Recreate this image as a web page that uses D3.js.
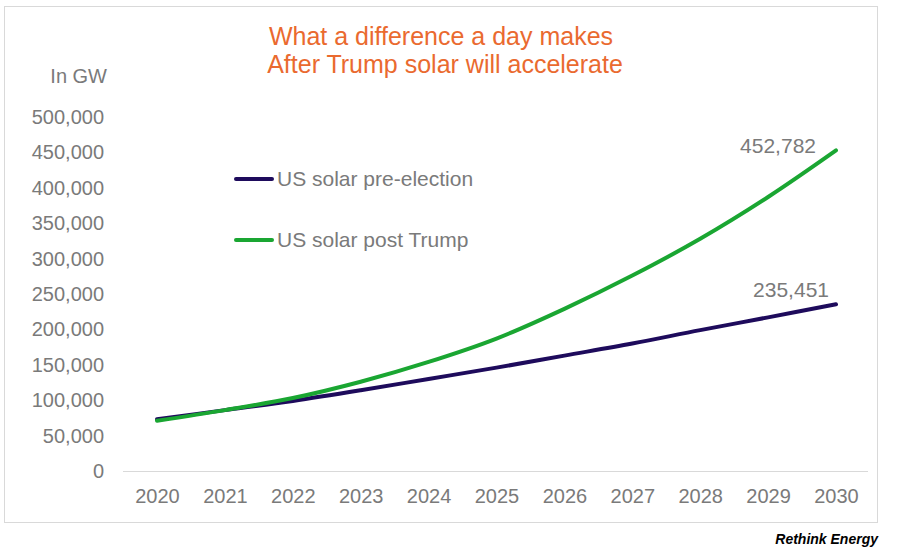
<!DOCTYPE html>
<html><head><meta charset="utf-8">
<script src="https://cdn.jsdelivr.net/npm/d3@7"></script>
<style>body{margin:0;background:#fff;} text{font-family:"Liberation Sans",Arial,sans-serif;}</style>
</head><body>
<svg id="chart" width="903" height="550"></svg>
<script>
const years = ["2020","2021","2022","2023","2024","2025","2026","2027","2028","2029","2030"];
const preElection = [73000, 86000, 99000, 114000, 130000, 146000, 163000, 180000, 199000, 217000, 235451];
const postTrump = [71000, 86000, 103000, 126000, 154000, 187000, 229000, 276000, 328000, 387000, 452782];
const yTicks = [0,50000,100000,150000,200000,250000,300000,350000,400000,450000,500000];
const seriesNames = ["US solar pre-election","US solar post Trump"];
const seriesColors = ["#1e0b5c","#1aa632"];
const endLabels = ["235,451","452,782"];

const svg = d3.select("#chart");
svg.append("rect").attr("x",4.5).attr("y",6.5).attr("width",873).attr("height",516)
  .attr("fill","#fff").attr("stroke","#d9d9d9");

const x = d3.scalePoint().domain(years).range([157,836]);
const y = d3.scaleLinear().domain([0,500000]).range([471,117]);
const fmt = d3.format(",");

// baseline
svg.append("line").attr("x1",123).attr("x2",868).attr("y1",y(0)+0.5).attr("y2",y(0)+0.5)
  .attr("stroke","#d9d9d9").attr("stroke-width",1.2);

// y axis
const ya = svg.append("g").attr("transform","translate(104,0)")
  .call(d3.axisLeft(y).tickValues(yTicks).tickFormat(d=>fmt(d)).tickSize(0).tickPadding(0));
ya.select(".domain").remove();
ya.selectAll("text").attr("font-size",20).attr("fill","#7a7a7a").attr("font-family","Liberation Sans, Arial, sans-serif");

// x axis
const xa = svg.append("g").attr("transform","translate(0,489)")
  .call(d3.axisBottom(x).tickSize(0).tickPadding(0));
xa.select(".domain").remove();
xa.selectAll("text").attr("font-size",20).attr("fill","#7a7a7a").attr("font-family","Liberation Sans, Arial, sans-serif");

// lines
const line = d3.line().x((d,i)=>x(years[i])).y(d=>y(d)).curve(d3.curveCatmullRom.alpha(0.5));
[preElection, postTrump].forEach((s,k)=>{
  svg.append("path").datum(s).attr("d",line).attr("fill","none")
    .attr("stroke",seriesColors[k]).attr("stroke-width",4).attr("stroke-linecap","round");
});

// end labels
const lblOff = [[-7,-7],[-20,3]];
[preElection, postTrump].forEach((s,k)=>{
  svg.append("text").attr("x",x(years[years.length-1])+lblOff[k][0]).attr("y",y(s[s.length-1])+lblOff[k][1])
    .attr("text-anchor","end").attr("font-size",21).attr("fill","#7a7a7a").text(endLabels[k]);
});

// legend
seriesNames.forEach((n,k)=>{
  const ly = 179 + k*61;
  svg.append("line").attr("x1",236).attr("x2",272).attr("y1",ly).attr("y2",ly)
    .attr("stroke",seriesColors[k]).attr("stroke-width",4).attr("stroke-linecap","round");
  svg.append("text").attr("x",277).attr("y",ly+7).attr("font-size",21).attr("fill","#7a7a7a").text(n);
});

// title
svg.append("text").attr("x",441).attr("y",45).attr("text-anchor","middle").attr("font-size",25)
  .attr("fill","#ea6a2f").text("What a difference a day makes");
svg.append("text").attr("x",445).attr("y",73).attr("text-anchor","middle").attr("font-size",25)
  .attr("fill","#ea6a2f").text("After Trump solar will accelerate");

// unit
svg.append("text").attr("x",107).attr("y",83).attr("text-anchor","end").attr("font-size",20)
  .attr("fill","#7a7a7a").text("In GW");

// credit
svg.append("text").attr("x",878).attr("y",544).attr("text-anchor","end").attr("font-size",14)
  .attr("font-weight","bold").attr("font-style","italic").attr("fill","#000").text("Rethink Energy");
</script>
</body></html>
